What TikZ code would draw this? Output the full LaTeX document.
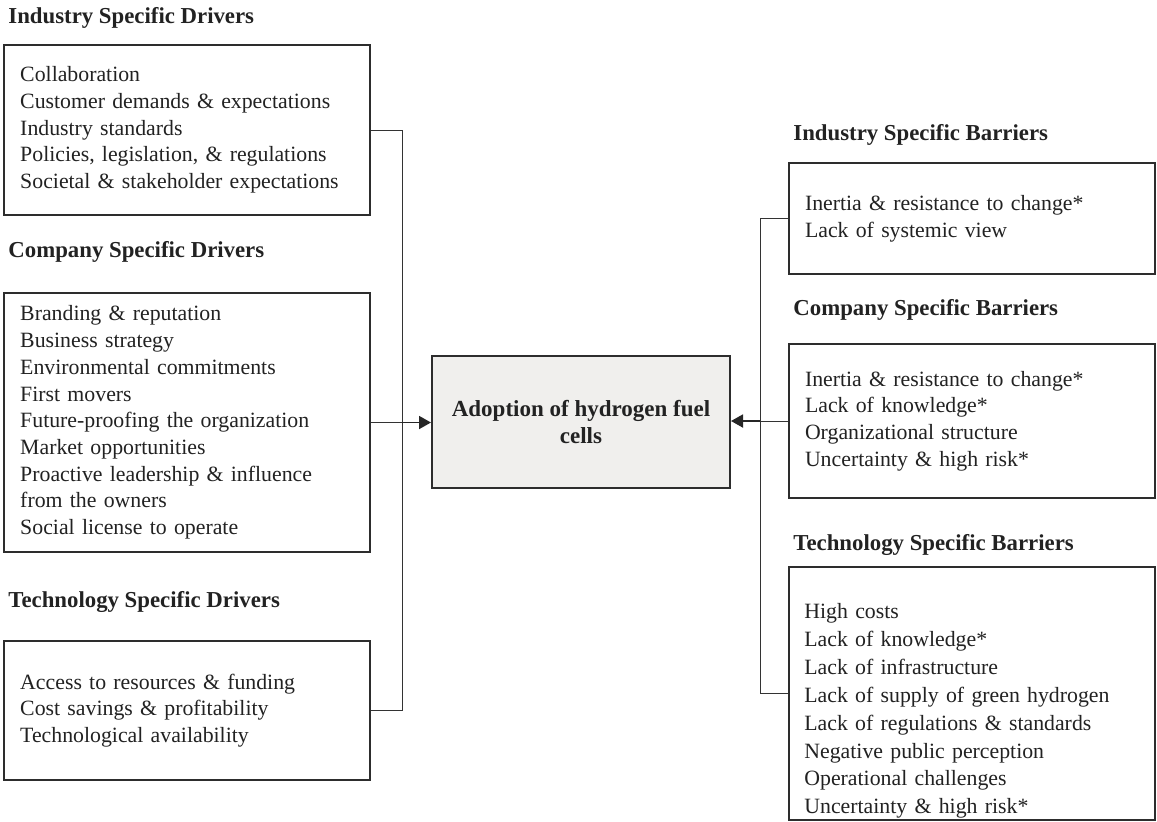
\documentclass[tikz,border=0pt]{standalone}
\usepackage{fontspec}
\setmainfont{Liberation Serif}
\usetikzlibrary{arrows.meta}
\definecolor{inkc}{RGB}{34,34,34}
\definecolor{framec}{RGB}{45,45,45}
\definecolor{corefill}{RGB}{240,239,237}
\begin{document}
\begin{tikzpicture}[x=0.5pt,y=-0.5pt,
  listbox/.style={draw=framec, line width=1pt, fill=white, inner xsep=8pt, inner ysep=0pt,
    text width=167pt, align=left, text=inkc,
    font=\fontsize{10.9}{13.35}\selectfont},
  heading/.style={anchor=base west, inner sep=0pt, text=inkc,
    font=\bfseries\fontsize{11.4}{13.7}\selectfont},
  corebox/.style={draw=framec, line width=1pt, fill=corefill, minimum width=149pt,
    minimum height=66pt, inner sep=0pt, align=center, text=inkc,
    font=\bfseries\fontsize{11.5}{13.5}\selectfont},
  conn/.style={draw=black!80, line width=0.5pt},
  feed/.style={draw=black!85, line width=0.9pt, -{Triangle[length=6pt,width=6.5pt]}}]
\useasboundingbox (0,0) rectangle (1157,821);

% ---- drivers (left column) ----
\node[heading] (hInd) at (8,23) {Industry Specific Drivers};
\node[listbox, minimum height=85pt] (L1) at (187.25,130) {Collaboration\\
Customer demands \& expectations\\
Industry standards\\
Policies, legislation, \& regulations\\
Societal \& stakeholder expectations};

\node[heading] (hCom) at (8,257) {Company Specific Drivers};
\node[listbox, minimum height=129.5pt] (L2) at (187.25,422.5) {Branding \& reputation\\
Business strategy\\
Environmental commitments\\
First movers\\
Future-proofing the organization\\
Market opportunities\\
Proactive leadership \& influence\\
from the owners\\
Social license to operate};

\node[heading] (hTec) at (8,607) {Technology Specific Drivers};
\node[listbox, minimum height=69.5pt] (L3) at (187.25,710.5) {Access to resources \& funding\\
Cost savings \& profitability\\
Technological availability};

% ---- central outcome ----
\node[corebox] (C) at (581,422) {Adoption of hydrogen fuel\\cells};

% ---- barriers (right column) ----
\node[heading] (hIndB) at (793,140) {Industry Specific Barriers};
\node[listbox, minimum height=55.5pt] (R1) at (972,218.5) {Inertia \& resistance to change*\\
Lack of systemic view};

\node[heading] (hComB) at (793,315) {Company Specific Barriers};
\node[listbox, minimum height=77pt] (R2) at (972,421) {Inertia \& resistance to change*\\
Lack of knowledge*\\
Organizational structure\\
Uncertainty \& high risk*};

\node[heading] (hTecB) at (793,550) {Technology Specific Barriers};
\node[draw=framec, line width=1pt, fill=white, minimum width=183pt, minimum height=126.5pt,
  inner sep=0pt] (R3) at (972,693.5) {};
\node[anchor=north west, inner sep=0pt, text width=167pt, align=left, text=inkc,
  font=\fontsize{10.9}{13.95}\selectfont] (R3text) at (804,603) {High costs\\
Lack of knowledge*\\
Lack of infrastructure\\
Lack of supply of green hydrogen\\
Lack of regulations \& standards\\
Negative public perception\\
Operational challenges\\
Uncertainty \& high risk*};

% ---- collecting lines ----
\coordinate (lbus) at (402,0);
\coordinate (rbus) at (760,0);

\draw[conn] (L1.east) -- (L1.east -| lbus) -- (L3.east -| lbus) -- (L3.east);
\draw[conn] (L2.east) -- (L2.east -| lbus);
\draw[feed] (L2.east -| lbus) -- (L2.east -| C.west);

\draw[conn] (R1.west) -- (R1.west -| rbus) -- (R3.west -| rbus) -- (R3.west);
\draw[conn] (R2.west) -- (R2.west -| rbus);
\draw[feed] (R2.west -| rbus) -- (R2.west -| C.east);
\end{tikzpicture}
\end{document}
